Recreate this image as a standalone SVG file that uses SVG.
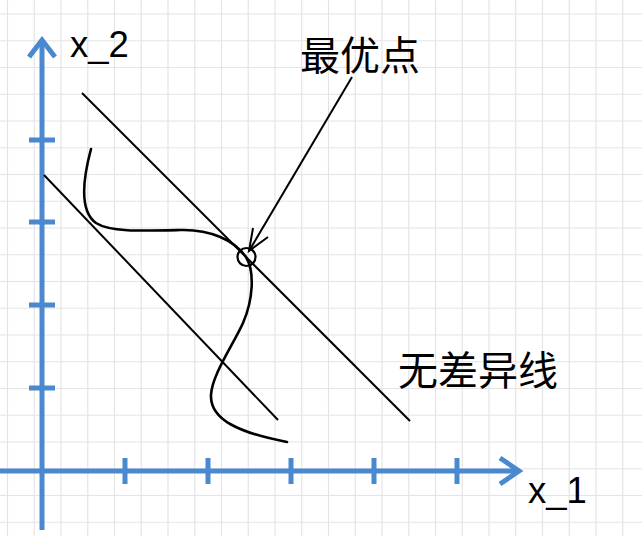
<svg xmlns="http://www.w3.org/2000/svg" width="642" height="536" viewBox="0 0 642 536">
<defs>
<style>
.grid line{stroke:#e4e4e4;stroke-width:1.2}
.axis{stroke:#4a88cf;stroke-width:5;fill:none;stroke-linejoin:miter;stroke-linecap:butt}
.ink{stroke:#000;stroke-width:2;fill:none;stroke-linecap:butt}
.curve{stroke:#000;stroke-width:2.6;fill:none;stroke-linecap:round}
.lat{font-family:"Liberation Sans",Arial,sans-serif;font-size:36.5px;fill:#000}
.cjk{font-family:"Noto Sans CJK SC","Noto Sans",sans-serif;font-size:40px;fill:#000}
</style>
</defs>
<rect width="642" height="536" fill="#fff"/>
<g class="grid" id="grid">
<line x1="7.5" y1="0" x2="7.5" y2="536"/><line x1="34.25" y1="0" x2="34.25" y2="536"/><line x1="61" y1="0" x2="61" y2="536"/><line x1="87.75" y1="0" x2="87.75" y2="536"/><line x1="114.5" y1="0" x2="114.5" y2="536"/><line x1="141.25" y1="0" x2="141.25" y2="536"/><line x1="168" y1="0" x2="168" y2="536"/><line x1="194.75" y1="0" x2="194.75" y2="536"/><line x1="221.5" y1="0" x2="221.5" y2="536"/><line x1="248.25" y1="0" x2="248.25" y2="536"/><line x1="275" y1="0" x2="275" y2="536"/><line x1="301.75" y1="0" x2="301.75" y2="536"/><line x1="328.5" y1="0" x2="328.5" y2="536"/><line x1="355.25" y1="0" x2="355.25" y2="536"/><line x1="382" y1="0" x2="382" y2="536"/><line x1="408.75" y1="0" x2="408.75" y2="536"/><line x1="435.5" y1="0" x2="435.5" y2="536"/><line x1="462.25" y1="0" x2="462.25" y2="536"/><line x1="489" y1="0" x2="489" y2="536"/><line x1="515.75" y1="0" x2="515.75" y2="536"/><line x1="542.5" y1="0" x2="542.5" y2="536"/><line x1="569.25" y1="0" x2="569.25" y2="536"/><line x1="596" y1="0" x2="596" y2="536"/><line x1="622.75" y1="0" x2="622.75" y2="536"/>
<line x1="0" y1="14" x2="642" y2="14"/><line x1="0" y1="40.75" x2="642" y2="40.75"/><line x1="0" y1="67.5" x2="642" y2="67.5"/><line x1="0" y1="94.25" x2="642" y2="94.25"/><line x1="0" y1="121" x2="642" y2="121"/><line x1="0" y1="147.75" x2="642" y2="147.75"/><line x1="0" y1="174.5" x2="642" y2="174.5"/><line x1="0" y1="201.25" x2="642" y2="201.25"/><line x1="0" y1="228" x2="642" y2="228"/><line x1="0" y1="254.75" x2="642" y2="254.75"/><line x1="0" y1="281.5" x2="642" y2="281.5"/><line x1="0" y1="308.25" x2="642" y2="308.25"/><line x1="0" y1="335" x2="642" y2="335"/><line x1="0" y1="361.75" x2="642" y2="361.75"/><line x1="0" y1="388.5" x2="642" y2="388.5"/><line x1="0" y1="415.25" x2="642" y2="415.25"/><line x1="0" y1="442" x2="642" y2="442"/><line x1="0" y1="468.75" x2="642" y2="468.75"/><line x1="0" y1="495.5" x2="642" y2="495.5"/><line x1="0" y1="522.25" x2="642" y2="522.25"/>
</g>
<g id="axes">
<path class="axis" d="M42 530 V40"/>
<path class="axis" d="M29 57 L42 40 L55 57"/>
<path class="axis" d="M0 471 H519"/>
<path class="axis" d="M500 458 L519 471 L500 484"/>
<path class="axis" d="M29 140 H55 M29 222 H55 M29 305 H55 M29 388 H55"/>
<path class="axis" d="M125 458 V484 M208 458 V484 M291 458 V484 M374 458 V484 M457 458 V484"/>
</g>
<g id="connectors">
<line class="ink" x1="82" y1="93" x2="410" y2="421"/>
<line class="ink" x1="44" y1="175" x2="278" y2="420"/>
<path class="curve" d="M91 149 C84 175,78 210,96 223 C110 232,140 231,180 230 C210 229,234 240,246 257 C255 272,253 300,243 323 C233 345,212 375,211 395 C210 420,240 433,287 442"/>
<line class="ink" x1="352" y1="77" x2="249" y2="251"/>
<polyline class="ink" points="253,228 249,251 268,237"/>
</g>
<g id="optimum">
<circle cx="246.5" cy="257" r="9" fill="none" stroke="#000" stroke-width="2.2"/>
</g>
<g id="label-x2"><text class="lat" x="70" y="57">x_2</text></g>
<g id="label-x1"><text class="lat" x="528" y="503">x_1</text></g>
<g id="label-opt"><text class="cjk" x="300" y="70">最优点</text></g>
<g id="label-indiff"><text class="cjk" x="398" y="385">无差异线</text></g>
</svg>
